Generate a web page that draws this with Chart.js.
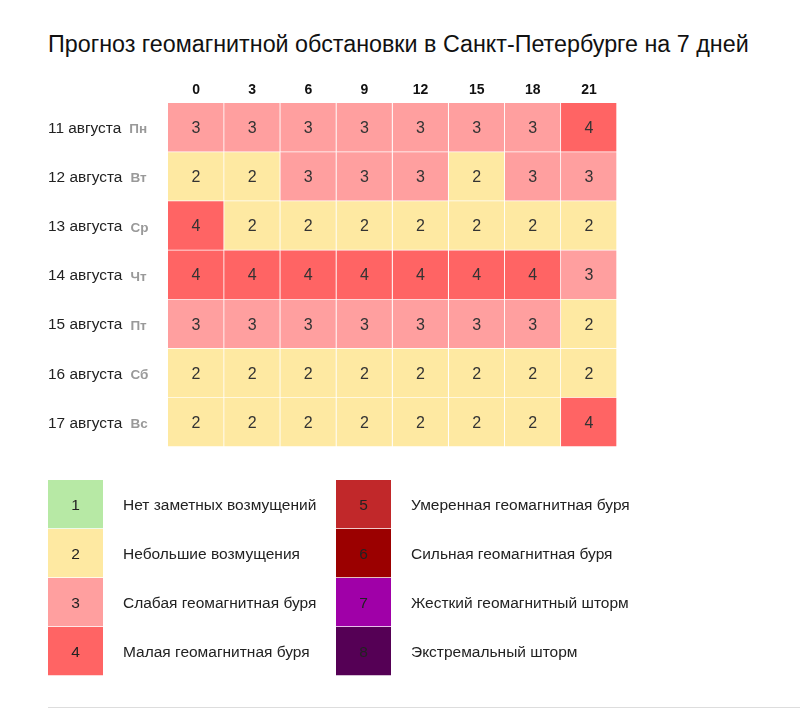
<!DOCTYPE html>
<html>
<head>
<meta charset="utf-8">
<script src="https://cdn.jsdelivr.net/npm/chart.js@4.4.0/dist/chart.umd.min.js"></script>
<style>
    body { margin: 0; background: #fff; font-family: "Liberation Sans", Arial, sans-serif; }
    #title { position: absolute; left: 48px; top: 31px; margin: 0; font-size: 23.3px; font-weight: normal; color: #111; white-space: nowrap; }
    #gridBox { position: absolute; left: 0; top: 60px; width: 640px; height: 400px; }
    .legBox { position: absolute; top: 470px; height: 216px; }
    #leg1 { left: 0; width: 330px; }
    #leg2 { left: 288px; width: 420px; }
    #rule { position: absolute; left: 48px; right: 0; top: 707px; height: 1px; background: #ddd; }
</style>
</head>
<body>
<h1 id="title">Прогноз геомагнитной обстановки в Санкт-Петербурге на 7 дней</h1>
<div id="gridBox"><canvas id="grid"></canvas></div>
<div class="legBox" id="leg1"><canvas id="legA"></canvas></div>
<div class="legBox" id="leg2"><canvas id="legB"></canvas></div>
<div id="rule"></div>
<script>
// hours (3-hour blocks) along the top
const hours = ['0', '3', '6', '9', '12', '15', '18', '21']
// rows
const days = ['11 августа', '12 августа', '13 августа', '14 августа', '15 августа', '16 августа', '17 августа']
const weekdays = ['Пн', 'Вт', 'Ср', 'Чт', 'Пт', 'Сб', 'Вс']

// Kp index per day, one value per 3-hour block
const kp11 = [3, 3, 3, 3, 3, 3, 3, 4]
const kp12 = [2, 2, 3, 3, 3, 2, 3, 3]
const kp13 = [4, 2, 2, 2, 2, 2, 2, 2]
const kp14 = [4, 4, 4, 4, 4, 4, 4, 3]
const kp15 = [3, 3, 3, 3, 3, 3, 3, 2]
const kp16 = [2, 2, 2, 2, 2, 2, 2, 2]
const kp17 = [2, 2, 2, 2, 2, 2, 2, 4]
const kpRows = [kp11, kp12, kp13, kp14, kp15, kp16, kp17]

// legend scale
const levels = [1, 2, 3, 4, 5, 6, 7, 8]
const levelNames = [
    'Нет заметных возмущений',
    'Небольшие возмущения',
    'Слабая геомагнитная буря',
    'Малая геомагнитная буря',
    'Умеренная геомагнитная буря',
    'Сильная геомагнитная буря',
    'Жесткий геомагнитный шторм',
    'Экстремальный шторм'
]
const levelColors = ['#b7e9a5', '#fee9a2', '#ff9f9f', '#ff6464', '#c1282a', '#9b0000', '#a000a8', '#550055']

const FONT = '"Liberation Sans", Arial, sans-serif'

// each hour block is one stacked segment of width 1, coloured by its Kp value
const gridDatasets = hours.map((h, j) => ({
    label: h,
    data: days.map(() => 1),
    kp: kpRows.map((row) => row[j]),
    backgroundColor: kpRows.map((row) => levelColors[row[j] - 1]),
    borderColor: '#fff',
    borderWidth: { top: 0, left: 0, right: 1, bottom: 1 },
    borderSkipped: false,
    categoryPercentage: 1,
    barPercentage: 1
}))

const gridText = {
    id: 'gridText',
    afterDatasetsDraw(chart) {
        const ctx = chart.ctx
        const { x, y } = chart.scales
        ctx.save()
        ctx.textAlign = 'center'
        ctx.textBaseline = 'middle'
        // values in cells
        ctx.font = '16px ' + FONT
        ctx.fillStyle = '#333'
        chart.data.datasets.forEach((ds, j) => {
            chart.getDatasetMeta(j).data.forEach((el, i) => {
                const c = el.getCenterPoint()
                ctx.fillText(ds.kp[i], c.x, c.y + 1)
            })
        })
        // hour header
        ctx.font = 'bold 14px ' + FONT
        ctx.fillStyle = '#111'
        hours.forEach((h, j) => {
            ctx.fillText(h, x.getPixelForValue(j + 0.5), chart.chartArea.top - 13)
        })
        // day labels
        ctx.textAlign = 'left'
        days.forEach((d, i) => {
            const py = y.getPixelForValue(i)
            ctx.font = '15.4px ' + FONT
            ctx.fillStyle = '#222'
            ctx.fillText(d, 48, py + 1)
            const w = ctx.measureText(d).width
            ctx.font = 'bold 13.5px ' + FONT
            ctx.fillStyle = '#999'
            ctx.fillText(weekdays[i], 48 + w + 8, py + 2)
        })
        ctx.restore()
    }
}

new Chart(document.getElementById('grid'), {
    type: 'bar',
    data: { labels: days, datasets: gridDatasets },
    options: {
        indexAxis: 'y',
        responsive: true,
        maintainAspectRatio: false,
        animation: false,
        layout: { padding: { left: 168, right: 23, top: 43, bottom: 13 } },
        plugins: { legend: { display: false }, tooltip: { enabled: false } },
        scales: {
            x: { stacked: true, min: 0, max: hours.length, display: false },
            y: { stacked: true, display: false }
        }
    },
    plugins: [gridText]
})

// legend columns: levels 1-4 and 5-8
const legendText = {
    id: 'legendText',
    afterDatasetsDraw(chart) {
        const ctx = chart.ctx
        const ds = chart.data.datasets[0]
        ctx.save()
        ctx.textBaseline = 'middle'
        chart.getDatasetMeta(0).data.forEach((el, i) => {
            const c = el.getCenterPoint()
            ctx.font = '15.5px ' + FONT
            ctx.textAlign = 'center'
            ctx.fillStyle = '#222'
            ctx.fillText(ds.levels[i], c.x, c.y + 1)
            ctx.textAlign = 'left'
            ctx.fillText(ds.names[i], chart.chartArea.right + 20, c.y + 1)
        })
        ctx.restore()
    }
}

const makeLegend = (id, from, padRight) => {
    const lv = levels.slice(from, from + 4)
    new Chart(document.getElementById(id), {
        type: 'bar',
        data: {
            labels: lv.map(String),
            datasets: [{
                data: lv.map(() => 1),
                levels: lv,
                names: levelNames.slice(from, from + 4),
                backgroundColor: levelColors.slice(from, from + 4),
                borderColor: '#fff',
                borderWidth: { top: 0, left: 0, right: 0, bottom: 1 },
                borderSkipped: false,
                categoryPercentage: 1,
                barPercentage: 1
            }]
        },
        options: {
            indexAxis: 'y',
            responsive: true,
            maintainAspectRatio: false,
            animation: false,
            layout: { padding: { left: 48, right: padRight, top: 10, bottom: 10 } },
            plugins: { legend: { display: false }, tooltip: { enabled: false } },
            scales: {
                x: { min: 0, max: 1, display: false },
                y: { display: false }
            }
        },
        plugins: [legendText]
    })
}

makeLegend('legA', 0, 227)
makeLegend('legB', 4, 317)
</script>
</body>
</html>
